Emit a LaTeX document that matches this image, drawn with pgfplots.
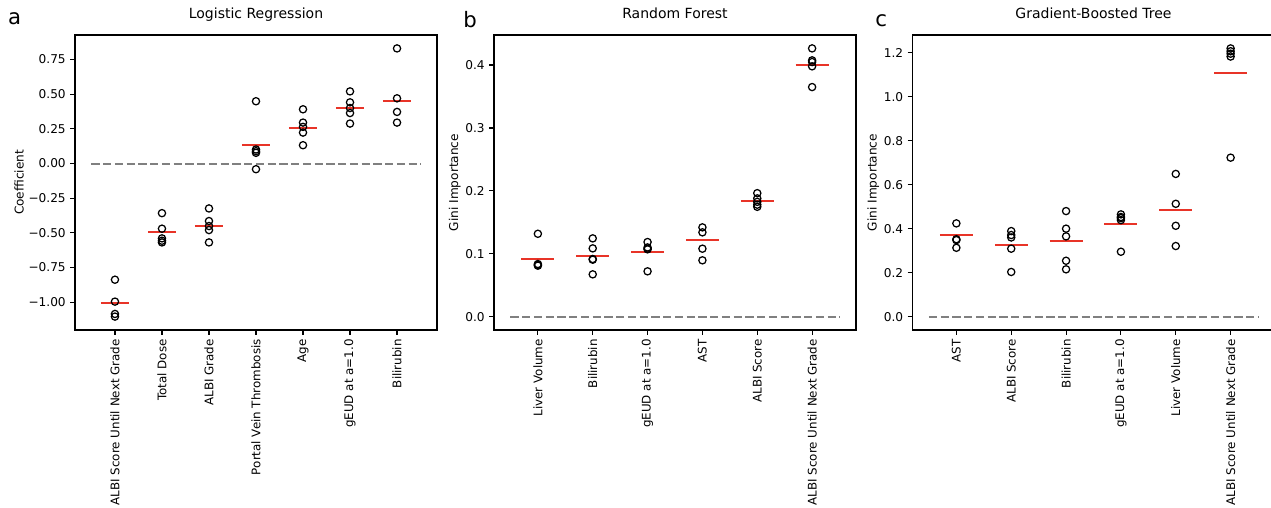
\documentclass[border=0pt]{standalone}
\usepackage{fontspec}
\setmainfont{DejaVu Sans}
\usepackage{pgfplots}
\pgfplotsset{compat=1.18}
\definecolor{mred}{RGB}{232,52,40}
\begin{document}
\begin{tikzpicture}
\useasboundingbox (0,0) rectangle (1271*0.8pt,-508*0.8pt);
\pgfplotsset{
  every axis/.append style={
    scale only axis, width=289.6pt, height=236pt,
    anchor=north west,
    axis line style={black, line width=0.9pt},
    tick style={black, line width=0.9pt},
    major tick length=3.9pt, tick align=outside,
    xtick pos=bottom, ytick pos=left,
    xticklabel style={rotate=90, anchor=east, font=\fontsize{9.5}{11}\selectfont},
    yticklabel style={font=\fontsize{9.7}{11}\selectfont},
    ylabel style={font=\fontsize{9.7}{11}\selectfont, yshift=-3pt},
    title style={font=\fontsize{11.2}{13}\selectfont, at={(0.5,1)}, anchor=base, yshift=7.2pt},
    /pgf/number format/assume math mode=true,
    clip=false,
  },
  mpoints/.style={only marks, mark=o, mark size=2.9pt, mark options={black, line width=1.0pt}},
  mline/.style={mred, line width=1.6pt, unbounded coords=jump, mark=none},
  zline/.style={color={rgb,255:red,128;green,128;blue,128}, line width=1.6pt, dash pattern=on 6.6pt off 2.8pt, mark=none},
}
% ---------------- panel a
\begin{axis}[
  at={(75*0.8pt,-35*0.8pt)},
  title={Logistic Regression},
  ylabel={Coefficient},
  xmin=-0.85, xmax=6.85, ymin=-1.2007, ymax=0.9267,
  xtick={0,...,6},
  xticklabels={ALBI Score Until Next Grade,Total Dose,ALBI Grade,Portal Vein Thrombosis,Age,gEUD at a=1.0,Bilirubin},
  ytick={-1,-0.75,-0.5,-0.25,0,0.25,0.5,0.75},
  yticklabels={−1.00,−0.75,−0.50,−0.25,0.00,0.25,0.50,0.75},
]
\addplot[zline] coordinates {(-0.5,0) (6.5,0)};
\addplot[mpoints] coordinates {
 (0,-0.838) (0,-0.996) (0,-1.085) (0,-1.104)
 (1,-0.358) (1,-0.470) (1,-0.540) (1,-0.557) (1,-0.569)
 (2,-0.324) (2,-0.415) (2,-0.451) (2,-0.480) (2,-0.569)
 (3,0.449) (3,0.101) (3,0.089) (3,0.077) (3,-0.041)
 (4,0.391) (4,0.295) (4,0.264) (4,0.223) (4,0.132)
 (5,0.520) (5,0.441) (5,0.400) (5,0.364) (5,0.288)
 (6,0.830) (6,0.470) (6,0.372) (6,0.295)
};
\addplot[mline] coordinates {
 (-0.3,-1.006) (0.3,-1.006) (0.5,nan)
 (0.7,-0.497) (1.3,-0.497) (1.5,nan)
 (1.7,-0.449) (2.3,-0.449) (2.5,nan)
 (2.7,0.137) (3.3,0.137) (3.5,nan)
 (3.7,0.259) (4.3,0.259) (4.5,nan)
 (4.7,0.403) (5.3,0.403) (5.5,nan)
 (5.7,0.453) (6.3,0.453)
};
\end{axis}
% ---------------- panel b
\begin{axis}[
  at={(494*0.8pt,-35*0.8pt)},
  title={Random Forest},
  ylabel={Gini Importance},
  xmin=-0.8, xmax=5.8, ymin=-0.0213, ymax=0.4478,
  xtick={0,...,5},
  xticklabels={Liver Volume,Bilirubin,gEUD at a=1.0,AST,ALBI Score,ALBI Score Until Next Grade},
  ytick={0,0.1,0.2,0.3,0.4},
  yticklabels={0.0,0.1,0.2,0.3,0.4},
]
\addplot[zline] coordinates {(-0.5,0) (5.5,0)};
\addplot[mpoints] coordinates {
 (0,0.1317) (0,0.0836) (0,0.0810) (0,0.0823)
 (1,0.1244) (1,0.1085) (1,0.0916) (1,0.0905) (1,0.0672)
 (2,0.1186) (2,0.1100) (2,0.1070) (2,0.1080) (2,0.0720)
 (3,0.1419) (3,0.1340) (3,0.1080) (3,0.0895)
 (4,0.1963) (4,0.1880) (4,0.1825) (4,0.1780) (4,0.1746)
 (5,0.4265) (5,0.4075) (5,0.4048) (5,0.3980) (5,0.3650)
};
\addplot[mline] coordinates {
 (-0.3,0.0920) (0.3,0.0920) (0.5,nan)
 (0.7,0.0968) (1.3,0.0968) (1.5,nan)
 (1.7,0.1032) (2.3,0.1032) (2.5,nan)
 (2.7,0.1222) (3.3,0.1222) (3.5,nan)
 (3.7,0.1836) (4.3,0.1836) (4.5,nan)
 (4.7,0.4006) (5.3,0.4006)
};
\end{axis}
% ---------------- panel c
\begin{axis}[
  at={(912.5*0.8pt,-35*0.8pt)},
  title={Gradient-Boosted Tree},
  ylabel={Gini Importance},
  xmin=-0.8, xmax=5.8, ymin=-0.061, ymax=1.281,
  xtick={0,...,5},
  xticklabels={AST,ALBI Score,Bilirubin,gEUD at a=1.0,Liver Volume,ALBI Score Until Next Grade},
  ytick={0,0.2,0.4,0.6,0.8,1.0,1.2},
  yticklabels={0.0,0.2,0.4,0.6,0.8,1.0,1.2},
]
\addplot[zline] coordinates {(-0.5,0) (5.5,0)};
\addplot[mpoints] coordinates {
 (0,0.424) (0,0.348) (0,0.313) (0,0.352)
 (1,0.389) (1,0.371) (1,0.360) (1,0.309) (1,0.203)
 (2,0.480) (2,0.400) (2,0.365) (2,0.254) (2,0.215)
 (3,0.465) (3,0.453) (3,0.439) (3,0.448) (3,0.295)
 (4,0.649) (4,0.513) (4,0.413) (4,0.321)
 (5,1.220) (5,1.207) (5,1.196) (5,1.183) (5,0.723)
};
\addplot[mline] coordinates {
 (-0.3,0.371) (0.3,0.371) (0.5,nan)
 (0.7,0.327) (1.3,0.327) (1.5,nan)
 (1.7,0.345) (2.3,0.345) (2.5,nan)
 (2.7,0.421) (3.3,0.421) (3.5,nan)
 (3.7,0.483) (4.3,0.483) (4.5,nan)
 (4.7,1.108) (5.3,1.108)
};
\end{axis}
\node[anchor=base west, inner sep=0pt, font=\fontsize{17}{20}\selectfont] at (8*0.8pt,-25*0.8pt) {a};
\node[anchor=base west, inner sep=0pt, font=\fontsize{17}{20}\selectfont] at (463*0.8pt,-28*0.8pt) {b};
\node[anchor=base west, inner sep=0pt, font=\fontsize{17}{20}\selectfont] at (875*0.8pt,-27*0.8pt) {c};
\end{tikzpicture}
\end{document}
